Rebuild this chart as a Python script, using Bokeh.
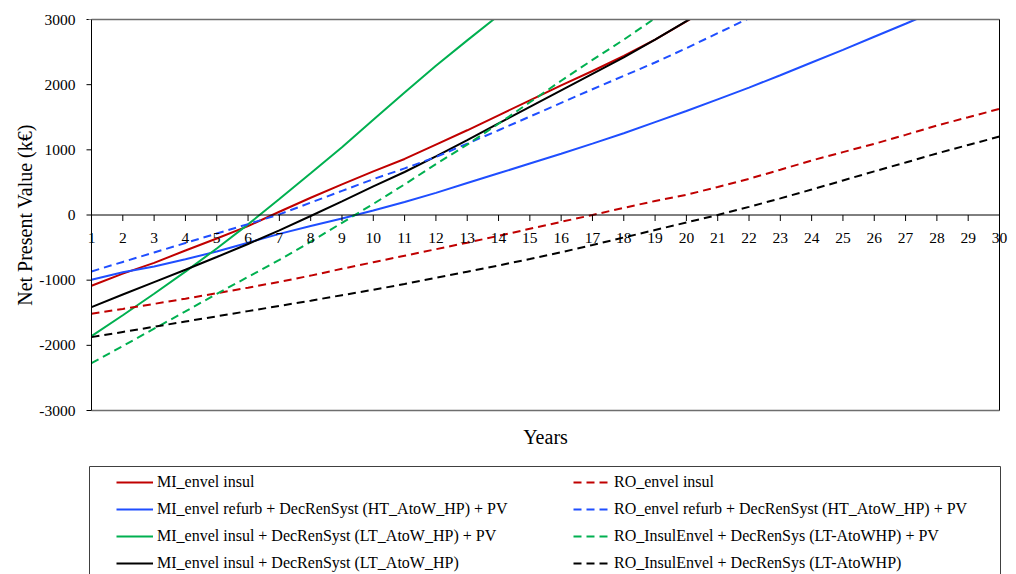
import math
from bokeh.plotting import figure
from bokeh.models import (ColumnDataSource, Legend, LegendItem, LabelSet, Label, Range1d)
from bokeh.embed import file_html
from bokeh.resources import INLINE

# ---------------- data ----------------
years = [1, 2, 3, 4, 5, 6, 7, 8, 9, 10, 11, 12, 13, 14, 15,
         16, 17, 18, 19, 20, 21, 22, 23, 24, 25, 26, 27, 28, 29, 30]
x_tick_labels = [str(y) for y in years]
y_ticks = [-3000, -2000, -1000, 0, 1000, 2000, 3000]
y_tick_labels = ["-3000", "-2000", "-1000", "0", "1000", "2000", "3000"]

mi_envel_insul = [-1085, -900, -735, -545, -360, -170, 50, 265, 470, 670,
                  860, 1080, 1300, 1530, 1760, 1990, 2210, 2440, 2690, 2970, 3250]
mi_refurb_ht_pv = [-994, -880, -790, -680, -560, -425, -290, -170, -55, 70,
                   200, 340, 490, 640, 790, 940, 1095, 1255, 1425, 1595,
                   1775, 1955, 2145, 2340, 2535, 2735, 2935, 3140]
mi_insul_lt_pv = [-1859, -1539, -1209, -869, -514, -144, 246, 640, 1040, 1460,
                  1880, 2290, 2680, 3060]
mi_insul_lt = [-1414, -1220, -1030, -840, -645, -445, -235, -15, 210, 440,
               660, 900, 1150, 1405, 1660, 1913, 2166, 2420, 2690, 2975, 3260]
ro_envel_insul = [-1516, -1441, -1364, -1284, -1201, -1115, -1026, -930, -825, -725,
                  -625, -525, -425, -320, -212, -105, 0, 110, 215, 310,
                  430, 555, 695, 836, 965, 1092, 1230, 1373, 1500, 1629]
ro_refurb_ht_pv = [-866, -720, -575, -430, -285, -140, 10, 190, 370, 550,
                   715, 890, 1095, 1300, 1510, 1720, 1930, 2135, 2340, 2560,
                   2790, 3020]
ro_insul_lt_pv = [-2273, -2010, -1745, -1480, -1210, -950, -690, -410, -120, 170,
                  470, 780, 1080, 1400, 1730, 2060, 2380, 2690, 3020, 3350]
ro_insul_lt = [-1874, -1795, -1715, -1635, -1555, -1475, -1395, -1315, -1230, -1148,
               -1058, -965, -870, -775, -675, -572, -460, -345, -230, -115,
               0, 125, 255, 390, 530, 670, 805, 945, 1075, 1204]

series = [
    ("MI_envel insul", mi_envel_insul, "#C00000", "solid"),
    ("MI_envel refurb + DecRenSyst (HT_AtoW_HP) + PV", mi_refurb_ht_pv, "#1F4EFF", "solid"),
    ("MI_envel insul + DecRenSyst (LT_AtoW_HP) + PV", mi_insul_lt_pv, "#00B050", "solid"),
    ("MI_envel insul + DecRenSyst (LT_AtoW_HP)", mi_insul_lt, "#000000", "solid"),
    ("RO_envel insul", ro_envel_insul, "#C00000", "8 5"),
    ("RO_envel refurb + DecRenSyst (HT_AtoW_HP) + PV", ro_refurb_ht_pv, "#1F4EFF", "8 5"),
    ("RO_InsulEnvel + DecRenSys (LT-AtoWHP) + PV", ro_insul_lt_pv, "#00B050", "8 5"),
    ("RO_InsulEnvel + DecRenSys (LT-AtoWHP)", ro_insul_lt, "#000000", "8 5"),
]

FONT = "Liberation Serif"

# ---------------- geometry (pixels) ----------------
W, H = 1016, 574
LEFT, TOP = 91, 19                  # where x=1 / y=3000 fall
PLOT_RIGHT, PLOT_BOTTOM = 999, 410  # where x=30 / y=-3000 fall
x0, x1 = years[0], years[-1]
y0, y1 = y_ticks[0], y_ticks[-1]
xpp = (x1 - x0) / (PLOT_RIGHT - LEFT)       # data units per pixel
ypp = (y1 - y0) / (PLOT_BOTTOM - TOP)
x_lo = x0 - LEFT * xpp
x_hi = x0 + (W - LEFT) * xpp
y_lo = y1 - (H - TOP) * ypp
y_hi = y1 + TOP * ypp

def xd(px):
    return x0 + (px - LEFT) * xpp

def yd(py):
    return y1 - (py - TOP) * ypp

p = figure(width=W, height=H, output_backend="svg", toolbar_location=None,
           x_range=Range1d(x_lo, x_hi), y_range=Range1d(y_lo, y_hi),
           x_axis_location=None, y_axis_location=None,
           min_border_left=0, min_border_right=0, min_border_top=0,
           min_border_bottom=0)
p.xgrid.visible = False
p.ygrid.visible = False
p.background_fill_color = "white"
p.border_fill_color = "white"
p.outline_line_color = None

# series
items = []
for name, vals, color, dash in series:
    r = p.line(years[:len(vals)], vals, line_color=color, line_width=2, line_dash=dash)
    items.append(LegendItem(label=name, renderers=[r]))

# lines stop at the top of the plot box
p.quad(left=[x0 - 3 * xpp], right=[x1 + 3 * xpp], top=[y_hi + 200], bottom=[y1],
       fill_color="white", line_color=None, level="overlay")

# plot box, zero line
p.segment(x0=[x0, x0], y0=[y1, y0], x1=[x1, x1], y1=[y1, y0],
          line_color="#6e6e6e", line_width=1.5, level="overlay")
p.segment(x0=[x1, x0], y0=[y0, y0], x1=[x1, x0], y1=[y1, y1],
          line_color="black", line_width=1, level="overlay")
p.segment(x0=[x0], y0=[0], x1=[x1], y1=[0], line_color="black", line_width=1)

# y axis ticks and labels
p.segment(x0=[x0 - 5 * xpp] * len(y_ticks), y0=y_ticks, x1=[x0] * len(y_ticks),
          y1=y_ticks, line_color="black", line_width=1)
ysrc = ColumnDataSource(dict(x=[x0] * len(y_ticks), y=y_ticks, text=y_tick_labels))
p.add_layout(LabelSet(x="x", y="y", text="text", source=ysrc, x_offset=-16,
                      text_align="right", text_baseline="middle",
                      text_font=FONT, text_font_size="15.5px", text_color="black"))
p.add_layout(Label(x=x0, y=(y0 + y1) / 2, text="Net Present Value (k€)",
                   angle=math.pi / 2, x_offset=-67,
                   text_align="center", text_baseline="middle",
                   text_font=FONT, text_font_size="20px", text_color="black"))

# x ticks on the zero line
tick_len = 6 * ypp
p.segment(x0=years, y0=[0] * len(years), x1=years, y1=[-tick_len] * len(years),
          line_color="black", line_width=1)
xsrc = ColumnDataSource(dict(x=years, y=[0] * len(years), text=x_tick_labels))
p.add_layout(LabelSet(x="x", y="y", text="text", source=xsrc, y_offset=-23,
                      text_align="center", text_baseline="middle",
                      text_font=FONT, text_font_size="15.5px", text_color="black"))

# x axis title
p.add_layout(Label(x=(x0 + x1) / 2, y=y0, text="Years", y_offset=-26,
                   text_align="center", text_baseline="middle",
                   text_font=FONT, text_font_size="20px", text_color="black"))

# legend box (runs past the bottom edge, as in the original)
p.quad(left=[xd(89)], right=[xd(1000)], top=[yd(466)], bottom=[y_lo - 1000],
       fill_color="white", line_color="#404040", line_width=1)

legend = Legend(items=items, location=(116, 2), orientation="vertical",
                nrows=4, ncols=2,
                glyph_width=37, glyph_height=18, label_height=18, label_width=407,
                label_standoff=4, spacing=9, padding=3, margin=0,
                label_text_font=FONT, label_text_font_size="16px",
                label_text_color="black",
                border_line_color=None, background_fill_alpha=0.0)
p.add_layout(legend, "center")

open("out.html", "w").write(file_html(p, INLINE))
